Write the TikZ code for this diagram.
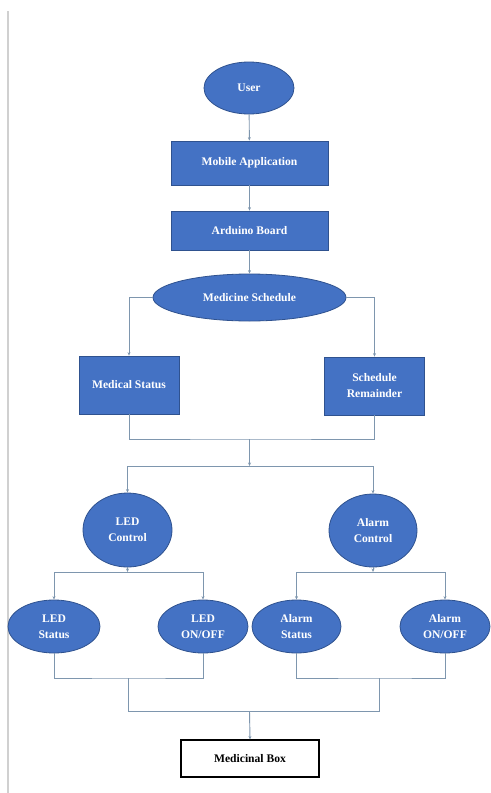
\documentclass[tikz,border=0pt]{standalone}
\usepackage{fontspec}
\setmainfont{Liberation Serif}
\usetikzlibrary{shapes.geometric,arrows.meta}
\definecolor{fillblue}{HTML}{4472C4}
\definecolor{edgeblue}{HTML}{2F528F}
\definecolor{linegray}{HTML}{7E96AE}
\definecolor{bordergray}{HTML}{D0D0D0}
\begin{document}
\begin{tikzpicture}[x=0.75pt,y=-0.75pt,
  every node/.style={font=\fontsize{8.7}{12}\selectfont\bfseries, align=center, inner sep=0pt},
  oval/.style={ellipse, draw=edgeblue, fill=fillblue, text=white, line width=0.6pt},
  bluebox/.style={rectangle, draw=edgeblue, fill=fillblue, text=white, line width=0.6pt},
  whitebox/.style={rectangle, draw=black, fill=white, text=black, line width=0.8pt},
  conn/.style={draw=linegray, line width=0.7pt},
  arr/.style={conn, -{Stealth[length=2.6pt,width=2.2pt]}}]
\useasboundingbox (0,0) rectangle (490,793);
\fill[white] (0,0) rectangle (490,793);
\draw[bordergray, line width=1.1pt] (8,11) -- (8,793);

\node[oval, minimum width=67.5pt, minimum height=39pt] (user) at (249,88) {User};
\node[bluebox, minimum width=117.75pt, minimum height=33pt] (mobile) at (249.5,163) {Mobile Application};
\node[bluebox, minimum width=117.75pt, minimum height=29.25pt] (arduino) at (249.5,230.5) {Arduino Board};
\node[oval, minimum width=144.75pt, minimum height=35.25pt] (sched) at (249.5,297.5) {Medicine Schedule};
\node[bluebox, minimum width=75pt, minimum height=43.5pt] (medstat) at (129,385) {Medical Status};
\node[bluebox, minimum width=75pt, minimum height=43.5pt] (remind) at (374.5,386) {Schedule\\Remainder};
\node[oval, minimum width=66.75pt, minimum height=55.5pt] (ledc) at (127.5,530) {LED\\Control};
\node[oval, minimum width=66pt, minimum height=54.75pt] (alarmc) at (373,530.5) {Alarm\\Control};
\node[oval, minimum width=69pt, minimum height=39.75pt] (leds) at (54,626.5) {LED\\Status};
\node[oval, minimum width=67.5pt, minimum height=39.75pt] (ledo) at (203,626.5) {LED\\ON/OFF};
\node[oval, minimum width=66.75pt, minimum height=39.75pt] (alarms) at (296.5,626.5) {Alarm\\Status};
\node[oval, minimum width=67.5pt, minimum height=39.75pt] (alarmo) at (445,626.5) {Alarm\\ON/OFF};
\node[whitebox, minimum width=103.5pt, minimum height=27.75pt] (box) at (250,758.5) {Medicinal Box};

\coordinate (j1) at (249.5,439);
\coordinate (j2) at (249.5,466);
\coordinate (j3) at (127.5,572);
\coordinate (j4) at (373,572);
\coordinate (j5) at (128.5,678);
\coordinate (j6) at (379,678);
\coordinate (j7) at (128.5,711);
\coordinate (j8) at (379,711);
\coordinate (j9) at (249.5,711);

\draw[arr] (user) -- (mobile);
\draw[arr] (mobile) -- (arduino);
\draw[arr] (arduino) -- (sched);
\draw[arr] (sched.west) -| (medstat.north);
\draw[arr] (sched.east) -| (remind.north);
\draw[conn] (medstat.south) |- (j1) -| (remind.south);
\draw[arr] (j1) -- (j2);
\draw[arr] (j2) -| (ledc.north);
\draw[arr] (j2) -| (alarmc.north);
\draw[arr] (ledc.south) -- (j3);
\draw[arr] (j3) -| (leds.north);
\draw[arr] (j3) -| (ledo.north);
\draw[arr] (alarmc.south) -- (j4);
\draw[arr] (j4) -| (alarms.north);
\draw[arr] (j4) -| (alarmo.north);
\draw[conn] (leds.south) |- (j5) -| (ledo.south);
\draw[conn] (alarms.south) |- (j6) -| (alarmo.south);
\draw[conn] (j5) -- (j7) -- (j8) -- (j6);
\draw[arr] (j9) -- (box.north);
\end{tikzpicture}
\end{document}
